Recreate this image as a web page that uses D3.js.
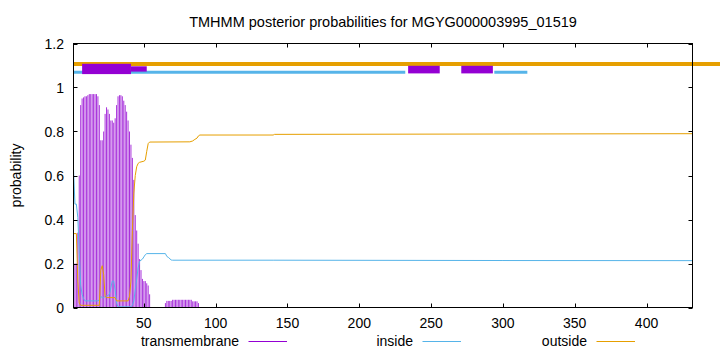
<!DOCTYPE html>
<html>
<head>
<meta charset="utf-8">
<script src="https://cdn.jsdelivr.net/npm/d3@7"></script>
<style>
  body { margin: 0; background: #fff; }
  svg { display: block; font-family: "Liberation Sans", Arial, sans-serif; }
</style>
</head>
<body>
<div id="chart"></div>
<script>
// Data
var title = "TMHMM posterior probabilities for MGYG000003995_01519";
var seqLength = 432;
var xTicks = [50, 100, 150, 200, 250, 300, 350, 400];
var yTicks = [0, 0.2, 0.4, 0.6, 0.8, 1, 1.2];
var yTickLabels = ["0", "0.2", "0.4", "0.6", "0.8", "1", "1.2"];
var seriesNames = ["transmembrane", "inside", "outside"];

// transmembrane probability per residue, residues 1..88 (rest ~0)
var tmProb = [
  0.20, 0.20, 0.20, 0.34, 0.60, 0.92, 0.95, 0.955, 0.96, 0.96,
  0.965, 0.97, 0.97, 0.97, 0.97, 0.97, 0.97, 0.96, 0.92, 0.76,
  0.76, 0.80, 0.88, 0.91, 0.90, 0.88, 0.85, 0.85, 0.84, 0.86,
  0.92, 0.96, 0.965, 0.965, 0.96, 0.94, 0.92, 0.89, 0.85, 0.80,
  0.74, 0.68, 0.58, 0.42, 0.35, 0.29, 0.22, 0.17, 0.13, 0.12,
  0.12, 0.11, 0.10, 0.06, 0, 0, 0, 0, 0, 0,
  0, 0, 0, 0, 0.02, 0.03, 0.03, 0.03, 0.03, 0.035,
  0.035, 0.035, 0.035, 0.035, 0.035, 0.035, 0.035, 0.035, 0.035, 0.035,
  0.035, 0.035, 0.035, 0.028, 0.028, 0.028, 0.028, 0.02
];

// [residue, probability]
var insideProb = [
  [1, 0.63], [2, 0.47], [3, 0.47], [4, 0.41], [5, 0.25], [6, 0.10], [7, 0.06],
  [8, 0.04], [9, 0.03], [18, 0.03], [19, 0.035], [20, 0.05], [21, 0.045],
  [22, 0.045], [23, 0.05], [25, 0.055], [26, 0.06], [27, 0.09], [28, 0.12],
  [29, 0.12], [30, 0.08], [31, 0.02], [32, 0.003], [41, 0.003], [42, 0.01],
  [43, 0.03], [44, 0.08], [45, 0.13], [46, 0.18], [47, 0.21], [48, 0.215],
  [49, 0.22], [50, 0.23], [51, 0.24], [52, 0.245], [65, 0.245], [66, 0.232],
  [67, 0.228], [69, 0.216], [70, 0.215], [140, 0.215], [300, 0.2135], [432, 0.213]
];

var outsideProb = [
  [1, 0.336], [3, 0.336], [4, 0.12], [5, 0.02], [6, 0.01], [19, 0.01],
  [20, 0.17], [21, 0.19], [22, 0.15], [23, 0.05], [24, 0.045], [30, 0.045],
  [31, 0.03], [39, 0.03], [40, 0.05], [41, 0.12], [42, 0.35], [43, 0.52],
  [44, 0.60], [45, 0.64], [46, 0.655], [47, 0.66], [50, 0.665], [51, 0.67],
  [52, 0.71], [53, 0.745], [54, 0.752], [82, 0.753], [84, 0.757], [85, 0.762],
  [87, 0.77], [88, 0.78], [89, 0.784], [140, 0.784], [141, 0.787], [432, 0.79]
];

// predicted topology segments [from, to]
var outsideSegments = [[1, 460]];
var insideSegments = [[1, 232], [294, 317]];
var tmSegments = [[7, 41], [234, 256], [271, 293]];
var tmTailSegments = [[41, 52]];

var colors = { transmembrane: "#9400d3", inside: "#56b4e9", outside: "#e69f00" };

var width = 720, height = 352;
var margin = { top: 43.5, right: 27.5, bottom: 44.5, left: 73.5 };

var svg = d3.select("#chart").append("svg")
  .attr("width", width)
  .attr("height", height);

var x = d3.scaleLinear().domain([1, seqLength]).range([margin.left, width - margin.right]);
var y = d3.scaleLinear().domain([0, 1.2]).range([height - margin.bottom, margin.top]);

// impulses
svg.append("g")
  .attr("opacity", 0.8)
  .selectAll("line")
  .data(tmProb)
  .enter().append("line")
  .attr("x1", function(d, i) { return x(i + 1); })
  .attr("x2", function(d, i) { return x(i + 1); })
  .attr("y1", y(0))
  .attr("y2", function(d) { return y(d); })
  .attr("stroke", colors.transmembrane)
  .attr("stroke-width", 1);

var line = d3.line()
  .x(function(d) { return x(d[0]); })
  .y(function(d) { return y(d[1]); });

svg.append("path").datum(insideProb)
  .attr("d", line).attr("fill", "none")
  .attr("stroke", colors.inside).attr("stroke-width", 1);

svg.append("path").datum(outsideProb)
  .attr("d", line).attr("fill", "none")
  .attr("stroke", colors.outside).attr("stroke-width", 1);

// topology bars on top
svg.append("g").selectAll("line")
  .data(outsideSegments)
  .enter().append("line")
  .attr("x1", function(d) { return x(d[0]); })
  .attr("x2", function(d) { return x(d[1]); })
  .attr("y1", y(1.107)).attr("y2", y(1.107))
  .attr("stroke", colors.outside).attr("stroke-width", 4);

svg.append("g").selectAll("line")
  .data(insideSegments)
  .enter().append("line")
  .attr("x1", function(d) { return x(d[0]); })
  .attr("x2", function(d) { return x(d[1]); })
  .attr("y1", y(1.069)).attr("y2", y(1.069))
  .attr("stroke", colors.inside).attr("stroke-width", 3);

svg.append("g").selectAll("rect")
  .data(tmSegments)
  .enter().append("rect")
  .attr("x", function(d) { return x(d[0]); })
  .attr("width", function(d) { return x(d[1]) - x(d[0]); })
  .attr("y", function(d, i) { return i == 0 ? y(1.085) - 5 : y(1.085) - 3; })
  .attr("height", function(d, i) { return i == 0 ? 10.3 : 7.6; })
  .attr("fill", colors.transmembrane);

svg.append("g").selectAll("rect")
  .data(tmTailSegments)
  .enter().append("rect")
  .attr("x", function(d) { return x(d[0]); })
  .attr("width", function(d) { return x(d[1]) - x(d[0]); })
  .attr("y", y(1.085) - 2.5)
  .attr("height", 5.3)
  .attr("fill", colors.transmembrane);

// border + ticks
var x0 = x.range()[0], x1 = x.range()[1], yb = y.range()[0], yt = y.range()[1];
var axes = svg.append("g").attr("stroke", "#000").attr("stroke-width", 1);

axes.selectAll(".xt").data(xTicks).enter().append("path")
  .attr("d", function(d) {
    var px = Math.round(x(d)) + 0.5;
    return "M" + px + "," + yb + "v-4M" + px + "," + yt + "v4";
  });
axes.selectAll(".yt").data(yTicks).enter().append("path")
  .attr("d", function(d) {
    var py = Math.round(y(d)) + 0.5;
    return "M" + x0 + "," + py + "h4M" + x1 + "," + py + "h-4";
  });
axes.append("rect")
  .attr("x", x0).attr("y", yt)
  .attr("width", x1 - x0).attr("height", yb - yt)
  .attr("fill", "none");

var fs = 14;
svg.append("g").selectAll("text")
  .data(xTicks).enter().append("text")
  .attr("x", function(d) { return x(d); })
  .attr("y", 328)
  .attr("text-anchor", "middle")
  .attr("font-size", fs)
  .text(function(d) { return d; });

svg.append("g").selectAll("text")
  .data(yTicks).enter().append("text")
  .attr("x", 64)
  .attr("y", function(d) { return y(d); })
  .attr("dy", "0.36em")
  .attr("text-anchor", "end")
  .attr("font-size", fs)
  .text(function(d, i) { return yTickLabels[i]; });

svg.append("text")
  .attr("transform", "translate(21," + ((yb + yt) / 2) + ") rotate(-90)")
  .attr("text-anchor", "middle")
  .attr("font-size", fs)
  .text("probability");

svg.append("text")
  .attr("x", (x0 + x1) / 2)
  .attr("y", 27)
  .attr("text-anchor", "middle")
  .attr("font-size", 14.5)
  .text(title);

// legend
var legend = svg.append("g").selectAll("g")
  .data(seriesNames).enter().append("g")
  .attr("transform", function(d, i) { return "translate(" + (239 + i * 174) + ",0)"; });
legend.append("text")
  .attr("x", 0).attr("y", 346)
  .attr("text-anchor", "end")
  .attr("font-size", fs)
  .text(function(d) { return d; });
legend.append("line")
  .attr("x1", 9.5).attr("x2", 48)
  .attr("y1", 341.5).attr("y2", 341.5)
  .attr("stroke", function(d) { return colors[d]; })
  .attr("stroke-width", 1);
</script>
</body>
</html>
